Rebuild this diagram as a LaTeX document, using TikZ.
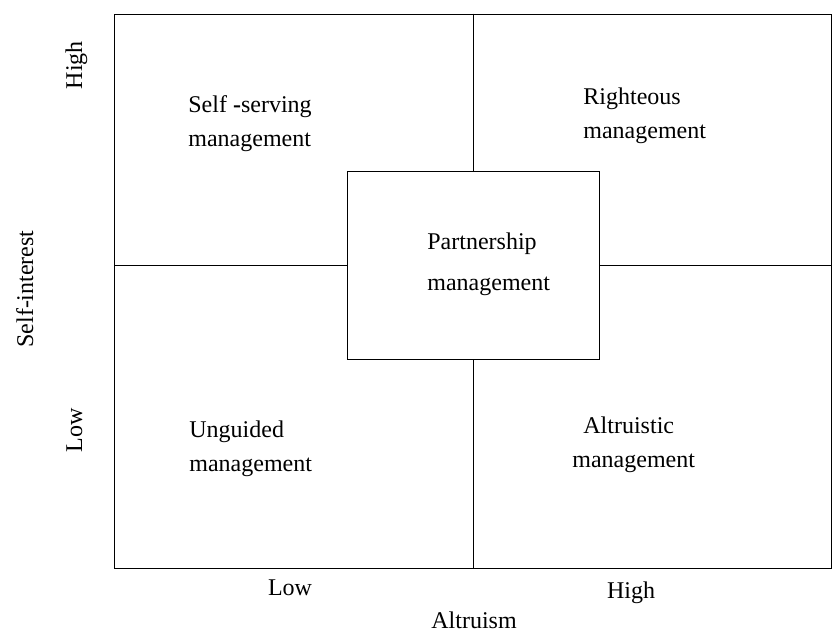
\documentclass[tikz,border=0pt]{standalone}
\usepackage{fontspec}
\setmainfont{Liberation Serif}
\tikzset{
    every node/.style={font=\fontsize{12}{17}\selectfont}, % same type size everywhere
    }

\begin{document}
\begin{tikzpicture}[x=0.5pt, y=-0.5pt,
boxnode/.style={rectangle, draw=black, line width=0.5pt, inner sep=0pt},
textnode/.style={align=left, anchor=base west, inner sep=0pt}, % base = last line
axisnode/.style={anchor=base, inner sep=0pt},
]
\useasboundingbox (0,0) rectangle (835,634);

% outer frame and the middle box
\node[boxnode, minimum width=358.5pt, minimum height=277pt] (frame) at (473,291) {};
\node[boxnode, fill=white, minimum width=126pt, minimum height=94pt] (partner) at (473,265) {};

% dividing lines, stopped at the middle box
\draw[line width=0.5pt,-] (frame.north) -- (partner.north);
\draw[line width=0.5pt,-] (partner.south) -- (frame.south);
\draw[line width=0.5pt,-] (frame.west |- partner.west) -- (partner.west);
\draw[line width=0.5pt,-] (partner.east) -- (frame.east |- partner.east);

% the five kinds of management
\node[textnode] (selfserving) at (188,146) {Self \textbf{-}serving\\management};
\node[textnode] (righteous) at (583,138) {Righteous\\management};
\node[textnode, font=\fontsize{12}{20.5}\selectfont] (partnership) at (427,290) {Partnership\\management};
\node[textnode] (unguided) at (189,471) {Unguided\\management};
\node[textnode] (altruistic) at (572,467) {\hspace{5.5pt}Altruistic\\management};

% axes
\node[axisnode, rotate=90] (siHigh) at (82,65) {High};
\node[axisnode, rotate=90] (siLow) at (82,430) {Low};
\node[axisnode, rotate=90] (selfint) at (33,289) {Self-interest};
\node[axisnode] (alLow) at (290,595) {Low};
\node[axisnode] (alHigh) at (631,598) {High};
\node[axisnode] (altruism) at (474,628) {Altruism};
\end{tikzpicture}
\end{document}
